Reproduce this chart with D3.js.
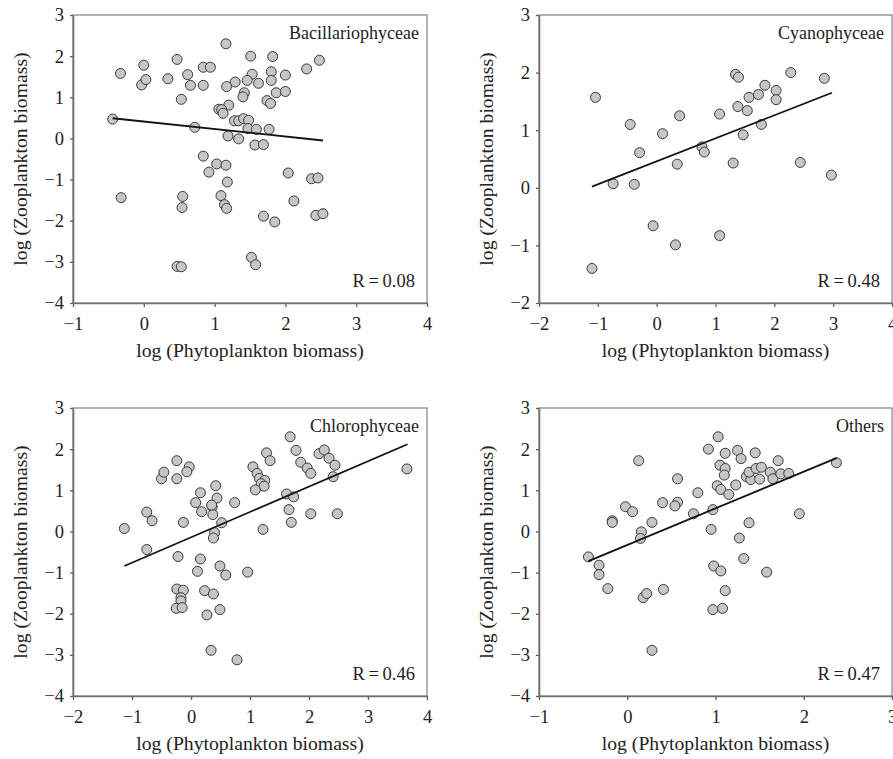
<!DOCTYPE html>
<html><head><meta charset="utf-8">
<script src="https://cdn.jsdelivr.net/npm/d3@7"></script>
<style>
html,body{margin:0;padding:0;background:#fff;}
svg{display:block;}
text{font-family:"Liberation Serif","Times New Roman",serif;fill:#222;}
</style></head>
<body>
<svg id="chart" width="893" height="759"></svg>
<script>
// ---------- data ----------
const panelNames = ["Bacillariophyceae", "Cyanophyceae", "Chlorophyceae", "Others"];
const rValues = ["0.08", "0.48", "0.46", "0.47"];
const xAxisTitle = "log (Phytoplankton biomass)";
const yAxisTitle = "log (Zooplankton biomass)";

const bacX = [-0.44,-0.33,-0.32,0.00,-0.03,0.03,0.34,0.47,0.53,0.62,0.66,0.72,0.84,0.94,0.84,1.16,1.51,1.82,1.53,1.80,2.00,2.30,2.48,1.29,1.17,1.46,1.62,1.80,1.42,1.40,1.87,2.00,1.74,1.79,1.20,1.06,1.10,1.12,1.28,1.34,1.41,1.48,1.47,1.59,1.77,1.19,1.34,1.57,1.69,0.84,1.03,1.16,0.92,1.18,2.04,2.37,2.46,0.55,0.54,1.09,1.14,1.17,2.12,1.69,1.85,2.43,2.53,0.47,0.53,1.52,1.58];
const bacY = [0.47,1.58,-1.44,1.78,1.30,1.43,1.45,1.92,0.95,1.55,1.29,0.27,1.73,1.73,1.29,2.30,2.00,1.99,1.56,1.62,1.54,1.69,1.90,1.37,1.26,1.41,1.34,1.41,1.11,1.01,1.11,1.14,0.92,0.85,0.81,0.71,0.70,0.61,0.43,0.43,0.48,0.44,0.24,0.22,0.22,0.06,-0.01,-0.16,-0.15,-0.43,-0.62,-0.65,-0.82,-1.06,-0.84,-0.98,-0.96,-1.41,-1.68,-1.39,-1.61,-1.70,-1.52,-1.89,-2.03,-1.87,-1.83,-3.11,-3.12,-2.89,-3.07];
const bacFitX = [-0.44, 2.53];
const bacFitY = [0.49, -0.05];

const cyaX = [-1.04,-1.10,-0.74,-0.38,-0.45,-0.29,0.10,-0.06,0.39,0.35,0.32,0.77,0.81,1.07,1.07,1.34,1.39,1.38,1.54,1.57,1.73,1.84,2.03,2.03,1.78,1.47,1.30,2.28,2.85,2.44,2.97];
const cyaY = [1.57,-1.40,0.07,0.06,1.10,0.61,0.94,-0.66,1.25,0.41,-0.99,0.71,0.62,1.28,-0.83,1.97,1.92,1.41,1.34,1.57,1.62,1.78,1.69,1.53,1.10,0.92,0.43,2.00,1.90,0.44,0.22];
const cyaFitX = [-1.10, 2.98];
const cyaFitY = [0.02, 1.65];

const chlX = [-1.13,-0.75,-0.66,-0.75,-0.50,-0.46,-0.24,-0.24,-0.03,-0.07,-0.13,-0.22,0.08,0.16,0.18,0.36,0.37,0.42,0.44,0.35,0.52,0.40,0.38,0.74,0.16,0.11,0.49,0.59,0.96,-0.24,-0.13,-0.17,-0.17,-0.25,-0.15,0.23,0.38,0.27,0.49,0.34,0.78,1.05,1.12,1.16,1.25,1.19,1.24,1.09,1.28,1.34,1.22,1.68,1.78,1.86,1.97,2.03,1.62,1.74,1.66,1.70,2.03,2.17,2.26,2.34,2.44,2.41,2.48,3.66];
const chlY = [0.07,0.47,0.26,-0.44,1.28,1.44,1.72,1.28,1.57,1.45,0.22,-0.61,0.70,0.94,0.48,0.60,0.41,1.11,0.81,0.64,0.21,-0.03,-0.16,0.70,-0.67,-0.97,-0.84,-1.06,-0.99,-1.40,-1.43,-1.61,-1.69,-1.87,-1.85,-1.44,-1.52,-2.03,-1.90,-2.89,-3.12,1.57,1.41,1.29,1.24,1.16,1.10,1.01,1.91,1.72,0.05,2.30,1.97,1.68,1.54,1.41,0.91,0.84,0.53,0.22,0.43,1.89,1.98,1.78,1.61,1.33,0.43,1.52];
const chlFitX = [-1.13, 3.67];
const chlFitY = [-0.84, 2.12];

const othX = [-0.44,-0.32,-0.32,-0.22,-0.17,-0.17,-0.02,0.06,0.13,0.16,0.15,0.28,0.18,0.22,0.28,0.40,0.41,0.57,0.57,0.54,0.80,0.75,0.92,1.03,1.11,1.05,1.11,1.10,1.02,1.06,1.15,0.97,0.95,0.98,1.06,1.11,0.97,1.08,1.25,1.29,1.45,1.23,1.35,1.40,1.38,1.46,1.52,1.50,1.62,1.65,1.71,1.74,1.83,1.38,1.27,1.32,1.58,1.95,2.37];
const othY = [-0.62,-0.82,-1.05,-1.39,0.26,0.22,0.60,0.48,1.72,-0.01,-0.17,0.22,-1.61,-1.51,-2.89,0.70,-1.41,1.28,0.71,0.62,0.94,0.43,2.00,2.30,1.90,1.61,1.53,1.37,1.11,1.02,0.90,0.53,0.05,-0.84,-0.96,-1.44,-1.90,-1.87,1.97,1.77,1.91,1.13,1.33,1.26,1.44,1.53,1.56,1.27,1.44,1.28,1.72,1.40,1.41,0.21,-0.16,-0.66,-0.99,0.43,1.67];
const othFitX = [-0.44, 2.37];
const othFitY = [-0.72, 1.78];

const xDomains = [[-1, 4], [-2, 4], [-2, 4], [-1, 3]];
const yDomains = [[-4, 3], [-2, 3], [-4, 3], [-4, 3]];
const xTickValues = [[-1, 0, 1, 2, 3, 4], [-2, -1, 0, 1, 2, 3, 4], [-2, -1, 0, 1, 2, 3, 4], [-1, 0, 1, 2, 3]];
const yTickValues = [[-4, -3, -2, -1, 0, 1, 2, 3], [-2, -1, 0, 1, 2, 3], [-4, -3, -2, -1, 0, 1, 2, 3], [-4, -3, -2, -1, 0, 1, 2, 3]];

const seriesX = [bacX, cyaX, chlX, othX];
const seriesY = [bacY, cyaY, chlY, othY];
const fitXs = [bacFitX, cyaFitX, chlFitX, othFitX];
const fitYs = [bacFitY, cyaFitY, chlFitY, othFitY];

// ---------- layout ----------
const boxes = [
  {l: 73, r: 427, t: 15, b: 303},
  {l: 539, r: 892, t: 15, b: 303},
  {l: 73, r: 427, t: 408, b: 696},
  {l: 539, r: 892, t: 408, b: 696}
];

const svg = d3.select("#chart");
const fmt = d3.format("d");
const FONT = '"Liberation Serif","Times New Roman",serif';

boxes.forEach((bx, i) => {
  const x = d3.scaleLinear().domain(xDomains[i]).range([bx.l, bx.r]);
  const y = d3.scaleLinear().domain(yDomains[i]).range([bx.b, bx.t]);
  const g = svg.append("g");

  // frame
  g.append("rect")
    .attr("x", bx.l).attr("y", bx.t)
    .attr("width", bx.r - bx.l).attr("height", bx.b - bx.t)
    .attr("fill", "none").attr("stroke", "#8a8a8a").attr("stroke-width", 1.3);

  const xa = g.append("g").attr("transform", `translate(0,${bx.b})`)
    .call(d3.axisBottom(x).tickValues(xTickValues[i]).tickFormat(fmt).tickSize(4).tickSizeOuter(0).tickPadding(10));
  const ya = g.append("g").attr("transform", `translate(${bx.l},0)`)
    .call(d3.axisLeft(y).tickValues(yTickValues[i]).tickFormat(fmt).tickSize(3).tickSizeOuter(0).tickPadding(6));
  [xa, ya].forEach(a => {
    a.select(".domain").attr("stroke", "#707070").attr("stroke-width", 1.6);
    a.selectAll(".tick line").attr("stroke", "#606060").attr("stroke-width", 1.3);
    a.selectAll(".tick text").attr("font-size", 18.5).attr("fill", "#222")
      .style("font-family", FONT);
  });

  // points
  const pts = seriesX[i].map((v, k) => [v, seriesY[i][k]]);
  g.append("g").selectAll("circle").data(pts).join("circle")
    .attr("cx", d => x(d[0])).attr("cy", d => y(d[1])).attr("r", 5)
    .attr("fill", "#c6c6c6").attr("stroke", "#3a3a3a").attr("stroke-width", 1);

  // fit line
  const fit = fitXs[i].map((v, k) => [v, fitYs[i][k]]);
  g.append("path").datum(fit)
    .attr("d", d3.line().x(d => x(d[0])).y(d => y(d[1])))
    .attr("fill", "none").attr("stroke", "#111").attr("stroke-width", 1.8);

  // labels
  g.append("text").attr("x", bx.r - 8).attr("y", bx.t + 24)
    .attr("text-anchor", "end").attr("font-size", 18).text(panelNames[i]);
  g.append("text").attr("x", bx.r - 12).attr("y", bx.b - 16)
    .attr("text-anchor", "end").attr("font-size", 18.5).text("R\u2009=\u2009" + rValues[i]);

  // axis titles
  g.append("text").attr("x", (bx.l + bx.r) / 2).attr("y", bx.b + 54)
    .attr("text-anchor", "middle").attr("font-size", 19.7).text(xAxisTitle);
  g.append("text")
    .attr("transform", `translate(${bx.l - 46},${(bx.t + bx.b) / 2}) rotate(-90)`)
    .attr("text-anchor", "middle").attr("font-size", 19.7).text(yAxisTitle);
});
</script>
</body></html>
